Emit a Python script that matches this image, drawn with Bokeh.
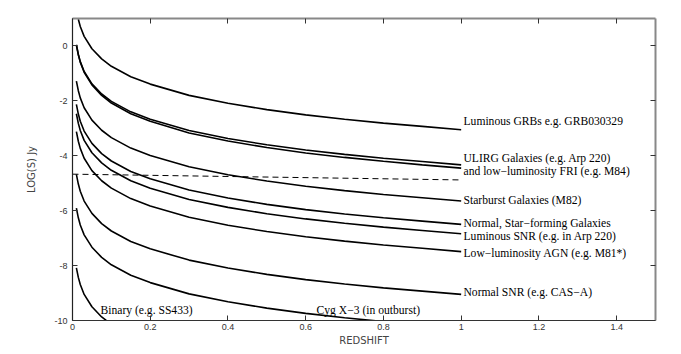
from bokeh.plotting import figure
from bokeh.models import LinearAxis, Range1d, FixedTicker, PrintfTickFormatter, ColumnDataSource
from bokeh.core.properties import value
from bokeh.embed import file_html
from bokeh.resources import INLINE

# ---- data ----
z = [0.01, 0.015, 0.02, 0.03, 0.05, 0.075, 0.1, 0.15, 0.2, 0.3, 0.4, 0.5, 0.6, 0.7, 0.8, 0.9, 1.0]

grb_z = [0.015, 0.02, 0.03, 0.05, 0.075, 0.1, 0.15, 0.2, 0.3, 0.4, 0.5, 0.6, 0.7, 0.8, 0.9, 1.0]
grb = [0.97, 0.71, 0.35, -0.10, -0.47, -0.74, -1.12, -1.39, -1.80, -2.09, -2.32, -2.51, -2.67, -2.81, -2.93, -3.05]

ulirg = [0.04, -0.31, -0.57, -0.93, -1.38, -1.75, -2.02, -2.40, -2.67, -3.08, -3.37, -3.60, -3.79, -3.95, -4.09, -4.21, -4.33]
fri = [0.04, -0.32, -0.59, -0.96, -1.42, -1.80, -2.08, -2.47, -2.74, -3.17, -3.46, -3.70, -3.90, -4.06, -4.20, -4.33, -4.45]
starburst = [-1.28, -1.63, -1.89, -2.25, -2.70, -3.07, -3.34, -3.72, -3.99, -4.40, -4.69, -4.92, -5.11, -5.27, -5.41, -5.53, -5.65]
normal_sf = [-2.13, -2.48, -2.74, -3.10, -3.55, -3.92, -4.19, -4.57, -4.84, -5.25, -5.54, -5.77, -5.96, -6.12, -6.26, -6.38, -6.50]
lum_snr = [-2.47, -2.82, -3.08, -3.44, -3.89, -4.26, -4.53, -4.91, -5.18, -5.59, -5.88, -6.11, -6.30, -6.46, -6.60, -6.72, -6.84]
ll_agn = [-3.12, -3.47, -3.73, -4.09, -4.54, -4.91, -5.18, -5.56, -5.83, -6.24, -6.53, -6.76, -6.95, -7.11, -7.25, -7.37, -7.49]
normal_snr = [-4.68, -5.03, -5.29, -5.65, -6.10, -6.47, -6.74, -7.12, -7.39, -7.80, -8.09, -8.32, -8.51, -8.67, -8.81, -8.93, -9.05]

cyg_z = [0.01, 0.015, 0.02, 0.03, 0.05, 0.075, 0.1, 0.15, 0.2, 0.3, 0.4, 0.5, 0.6, 0.7, 0.8]
cyg = [-5.91, -6.26, -6.52, -6.88, -7.33, -7.70, -7.97, -8.35, -8.62, -9.03, -9.32, -9.55, -9.74, -9.90, -10.04]

binary_z = [0.01, 0.015, 0.02, 0.03, 0.05, 0.075, 0.1]
binary = [-8.08, -8.43, -8.69, -9.05, -9.50, -9.87, -10.14]

limit_z = [0.0, 1.0]
limit = [-4.67, -4.88]

right_labels = ["Luminous GRBs e.g. GRB030329",
                "ULIRG Galaxies (e.g. Arp 220)",
                "and low\u2212luminosity FRI (e.g. M84)",
                "Starburst Galaxies (M82)",
                "Normal, Star\u2212forming Galaxies",
                "Luminous SNR (e.g. in Arp 220)",
                "Low\u2212luminosity AGN (e.g. M81*)",
                "Normal SNR (e.g. CAS\u2212A)"]
right_label_y = [-2.76, -4.11, -4.58, -5.62, -6.45, -6.95, -7.56, -8.98]
right_label_x = [1.006] * len(right_labels)

bottom_labels = ["Binary (e.g. SS433)", "Cyg X\u22123 (in outburst)"]
bottom_label_x = [0.072, 0.628]
bottom_label_y = [-9.64, -9.64]

x_ticks = [0, 0.2, 0.4, 0.6, 0.8, 1.0, 1.2, 1.4]
y_ticks = [-10, -8, -6, -4, -2, 0]

# ---- figure ----
p = figure(frame_width=583, frame_height=302,
           x_range=Range1d(0, 1.5), y_range=Range1d(-10, 1),
           output_backend="svg", toolbar_location=None,
           min_border_left=72, min_border_right=18, min_border_top=18, min_border_bottom=26)
p.xgrid.visible = False
p.ygrid.visible = False
p.outline_line_color = None
p.background_fill_color = "white"
p.border_fill_color = "white"

curves = [(grb_z, grb), (z, ulirg), (z, fri), (z, starburst), (z, normal_sf),
          (z, lum_snr), (z, ll_agn), (z, normal_snr), (cyg_z, cyg), (binary_z, binary)]
for xs, ys in curves:
    p.line(xs, ys, line_color="black", line_width=1.6)

p.line(limit_z, limit, line_color="black", line_width=1, line_dash="6 4")

lab_src = ColumnDataSource(dict(x=right_label_x, y=right_label_y, t=right_labels))
p.text(x="x", y="y", text="t", source=lab_src, text_font=value("Liberation Serif"),
       text_font_size="11.6px", text_baseline="middle", text_align="left", text_color="black")
bl_src = ColumnDataSource(dict(x=bottom_label_x, y=bottom_label_y, t=bottom_labels))
p.text(x="x", y="y", text="t", source=bl_src, text_font=value("Liberation Serif"),
       text_font_size="11.6px", text_baseline="middle", text_align="left", text_color="black")

def style_axis(ax, ticks, color, width, show_labels):
    ax.ticker = FixedTicker(ticks=ticks)
    ax.major_tick_in = 5
    ax.major_tick_out = 0
    ax.minor_tick_in = 0
    ax.minor_tick_out = 0
    ax.axis_line_color = color
    ax.axis_line_width = width
    ax.major_tick_line_color = "#333333"
    ax.major_tick_line_width = 1
    if show_labels:
        ax.formatter = PrintfTickFormatter(format="%g")
        ax.major_label_text_font = "Liberation Sans"
        ax.major_label_text_font_size = "9px"
        ax.major_label_text_color = "#333333"
        ax.axis_label_text_font = "DejaVu Sans"
        ax.axis_label_text_font_size = "10px"
        ax.axis_label_text_font_style = "normal"
        ax.axis_label_text_color = "#444444"
    else:
        ax.formatter = PrintfTickFormatter(format="")
        ax.major_label_standoff = 0

xa = p.xaxis[0]
style_axis(xa, x_ticks, "#333333", 1.2, True)
xa.axis_label = "REDSHIFT"
xa.major_label_standoff = 3
xa.axis_label_standoff = 2

ya = p.yaxis[0]
style_axis(ya, y_ticks, "#222222", 1.2, True)
ya.axis_label = "LOG(S) Jy"
ya.major_label_standoff = 5
ya.axis_label_standoff = 14

top = LinearAxis()
style_axis(top, x_ticks, "#888888", 2, False)
p.add_layout(top, "above")
right = LinearAxis()
style_axis(right, y_ticks, "#888888", 2, False)
p.add_layout(right, "right")

open("out.html", "w").write(file_html(p, INLINE))
